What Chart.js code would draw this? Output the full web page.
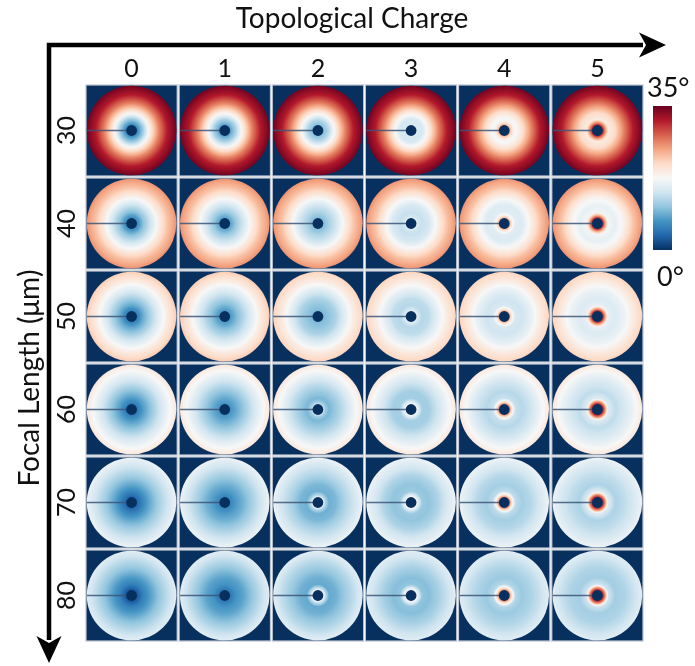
<!DOCTYPE html>
<html>
<head>
<meta charset="utf-8">
<script src="https://cdn.jsdelivr.net/npm/chart.js@4.4.1/dist/chart.umd.min.js"></script>
<style>
  html, body { margin: 0; padding: 0; background: #fff; }
  #wrap { width: 695px; height: 666px; }
</style>
</head>
<body>
<div id="wrap"><canvas id="chart" width="695" height="666"></canvas></div>
<script>
// --- data ---
const charges = [0, 1, 2, 3, 4, 5];
const focalLengths = [30, 40, 50, 60, 70, 80];
// radii (fraction of disc radius) where the angle profile was read
const radii = [0.12, 0.17, 0.25, 0.4, 0.6, 0.8, 1.0];
// angle in degrees at each radius, one profile per topological charge 0..5
const angleF30 = [
    [6, 8, 11, 18.5, 26, 31.5, 34.5],
    [8, 9.5, 12, 18.5, 26, 31.5, 34.5],
    [10, 11, 13, 19, 26, 31.5, 34.5],
    [15, 14.5, 14.5, 19, 26, 31.5, 34.5],
    [24, 20, 17, 20, 26, 31.5, 34.5],
    [31, 26, 19, 21, 26.5, 31.5, 34.5]
];
const angleF40 = [
    [6.5, 7.5, 10, 13.5, 18.5, 22.5, 25.5],
    [8, 9, 11, 14, 18.5, 22.5, 25.5],
    [10, 10.5, 12, 14, 18.5, 22.5, 25.5],
    [16, 14, 13.5, 14.5, 18.5, 22.5, 25.5],
    [24, 19, 15.5, 15, 18.5, 22.5, 25.5],
    [31, 25, 17, 16, 18.5, 22.5, 25.5]
];
const angleF50 = [
    [5.5, 6.5, 8.5, 11.5, 15.5, 19, 22],
    [7.5, 8, 9.5, 12, 15.5, 19, 22],
    [9.5, 10, 10.5, 12, 15.5, 19, 21.5],
    [16, 14, 12.5, 13, 16, 19, 21.5],
    [24, 19, 14.5, 14, 16, 19, 21.5],
    [31, 25, 16, 15, 16.5, 19, 21.5]
];
const angleF60 = [
    [5, 6, 7.5, 10, 13.5, 16.5, 19.5],
    [7, 7.5, 8.5, 10.5, 13.5, 16.5, 19.5],
    [14, 11, 9.5, 11, 13.5, 16.5, 19.5],
    [18, 15, 11.5, 11.5, 14, 16.5, 19.5],
    [26, 20, 13.5, 12.5, 14, 16.5, 19.5],
    [31, 26, 15, 13, 14.5, 16.5, 19.5]
];
const angleF70 = [
    [3.5, 4.5, 6, 8.5, 11.5, 14, 16.5],
    [6, 6.5, 7.5, 9, 11.5, 14, 16.5],
    [16, 12, 9, 9.5, 12, 14, 16.5],
    [18, 15, 11, 10.5, 12, 14.5, 16.5],
    [26, 20, 13, 11.5, 12.5, 14.5, 16.5],
    [31, 26, 15, 12, 13, 14.5, 16.5]
];
const angleF80 = [
    [2.5, 3.5, 5.5, 7.5, 10.5, 13, 15.5],
    [5, 5.5, 7, 8, 10.5, 13, 15.5],
    [17, 13, 8.5, 9, 11, 13, 15.5],
    [18, 15, 10.5, 10, 11.5, 13.5, 15.5],
    [26, 20, 12.5, 11, 12, 13.5, 15.5],
    [31, 26, 14, 11.5, 12, 13.5, 15.5]
];
const colorbarTicks = [0, 35];

// RdBu reversed
const rdbu = ['#053061', '#2166ac', '#4393c3', '#92c5de', '#d1e5f0', '#f7f7f7',
              '#fddbc7', '#f4a582', '#d6604d', '#b2182b', '#67001f'];
const navy = '#08305f';
const font = 'Lato, "Open Sans", sans-serif';

const rows = [angleF30, angleF40, angleF50, angleF60, angleF70, angleF80];
const cells = [];
focalLengths.forEach((f, i) => {
    charges.forEach((c, j) => cells.push({ x: c, y: f, profile: rows[i][j] }));
});

function hexRgb(h) {
    return [1, 3, 5].map(k => parseInt(h.substr(k, 2), 16));
}

function angleColor(a) {
    const t = Math.max(0, Math.min(1, a / colorbarTicks[1])) * (rdbu.length - 1);
    const i = Math.min(Math.floor(t), rdbu.length - 2);
    const f = t - i;
    const c0 = hexRgb(rdbu[i]), c1 = hexRgb(rdbu[i + 1]);
    const c = c0.map((v, k) => Math.round(v + f * (c1[k] - v)));
    return `rgb(${c[0]},${c[1]},${c[2]})`;
}

function profileAt(p, r) {
    if (r <= radii[0]) return p[0];
    for (let k = 1; k < radii.length; k++) {
        if (r <= radii[k]) {
            const f = (r - radii[k - 1]) / (radii[k] - radii[k - 1]);
            return p[k - 1] + f * (p[k] - p[k - 1]);
        }
    }
    return p[p.length - 1];
}

// draws each cell (disc + branch line + core) at the point the scales give
const discPlugin = {
    id: 'discs',
    afterDatasetsDraw(chart) {
        const { ctx, scales: { x, y } } = chart;
        const meta = chart.getDatasetMeta(0);
        const pts = chart.data.datasets[0].data;
        const hx = Math.abs(x.getPixelForValue(0.5) - x.getPixelForValue(-0.5)) / 2 - 1.4;
        const hy = Math.abs(y.getPixelForValue(40) - y.getPixelForValue(30)) / 2 - 1.4;
        ctx.save();
        meta.data.forEach((el, k) => {
            const cx = el.x, cy = el.y, p = pts[k].profile;
            ctx.fillStyle = navy;
            ctx.fillRect(cx - hx, cy - hy, hx * 2, hy * 2);
            ctx.strokeStyle = 'rgba(160,170,185,0.7)';
            ctx.lineWidth = 1;
            ctx.strokeRect(cx - hx - 0.5, cy - hy - 0.5, hx * 2 + 1, hy * 2 + 1);

            const R = Math.min(hx, hy) - 0.3;
            const g = ctx.createRadialGradient(cx, cy, 0, cx, cy, R);
            for (let s = 0; s <= 80; s++) {
                g.addColorStop(s / 80, angleColor(profileAt(p, s / 80)));
            }
            ctx.beginPath();
            ctx.arc(cx, cy, R, 0, Math.PI * 2);
            ctx.fillStyle = g;
            ctx.fill();

            ctx.beginPath();
            ctx.moveTo(cx - R, cy);
            ctx.lineTo(cx, cy);
            ctx.strokeStyle = 'rgba(60,85,120,0.85)';
            ctx.lineWidth = 1.4;
            ctx.stroke();

            ctx.beginPath();
            ctx.arc(cx, cy, R * radii[0], 0, Math.PI * 2);
            ctx.fillStyle = navy;
            ctx.fill();
        });
        ctx.restore();
    },
    afterDraw(chart) {
        const ctx = chart.ctx;
        ctx.save();
        // axis arrows
        ctx.strokeStyle = '#000';
        ctx.fillStyle = '#000';
        ctx.lineWidth = 4.5;
        ctx.beginPath();
        ctx.moveTo(49, 662 - 22);
        ctx.lineTo(49, 45);
        ctx.lineTo(665 - 22, 45);
        ctx.stroke();
        ctx.beginPath();
        ctx.moveTo(666, 45);
        ctx.lineTo(639, 32.5);
        ctx.lineTo(646, 45);
        ctx.lineTo(639, 57.5);
        ctx.closePath();
        ctx.fill();
        ctx.beginPath();
        ctx.moveTo(49, 663);
        ctx.lineTo(36.5, 636);
        ctx.lineTo(49, 643);
        ctx.lineTo(61.5, 636);
        ctx.closePath();
        ctx.fill();

        // axis titles
        ctx.font = '28px ' + font;
        ctx.fillStyle = '#111';
        ctx.textAlign = 'center';
        ctx.textBaseline = 'alphabetic';
        ctx.fillText('Topological Charge', 352, 28);
        ctx.translate(39, 378);
        ctx.rotate(-Math.PI / 2);
        ctx.fillText('Focal Length (\u03bcm)', 0, 0);
        ctx.restore();

        // colorbar
        ctx.save();
        const cbX = 653, cbW = 19, cbTop = 106, cbBot = 250;
        const g = ctx.createLinearGradient(0, cbBot, 0, cbTop);
        for (let s = 0; s <= 40; s++) {
            g.addColorStop(s / 40, angleColor(colorbarTicks[0] + (colorbarTicks[1] - colorbarTicks[0]) * s / 40));
        }
        ctx.fillStyle = g;
        ctx.fillRect(cbX, cbTop, cbW, cbBot - cbTop);
        ctx.font = '27px ' + font;
        ctx.fillStyle = '#111';
        ctx.textAlign = 'left';
        ctx.textBaseline = 'alphabetic';
        ctx.fillText(colorbarTicks[1] + '\u00b0', 647, 97);
        ctx.fillText(colorbarTicks[0] + '\u00b0', 657, 286);
        ctx.restore();
    }
};

new Chart(document.getElementById('chart'), {
    type: 'scatter',
    data: {
        datasets: [{ data: cells, pointRadius: 0, pointHoverRadius: 0 }]
    },
    options: {
        responsive: false,
        animation: false,
        events: [],
        layout: { padding: { top: 0, left: 0, right: 51, bottom: 24 } },
        plugins: { legend: { display: false }, tooltip: { enabled: false } },
        scales: {
            x: {
                type: 'linear',
                position: 'top',
                min: -0.5,
                max: 5.5,
                grid: { display: false, drawTicks: false },
                border: { display: false },
                afterBuildTicks: s => { s.ticks = charges.map(v => ({ value: v })); },
                afterFit: s => { s.height = 84; },
                ticks: { autoSkip: false, padding: 0, color: '#111', font: { family: font, size: 25 } }
            },
            y: {
                type: 'linear',
                reverse: true,
                min: 25,
                max: 85,
                grid: { display: false, drawTicks: false },
                border: { display: false },
                afterBuildTicks: s => { s.ticks = focalLengths.map(v => ({ value: v })); },
                afterFit: s => { s.width = 85; },
                ticks: {
                    autoSkip: false, padding: 4, minRotation: 90, maxRotation: 90,
                    crossAlign: 'center', color: '#111', font: { family: font, size: 25 }
                }
            }
        }
    },
    plugins: [discPlugin]
});
</script>
</body>
</html>
